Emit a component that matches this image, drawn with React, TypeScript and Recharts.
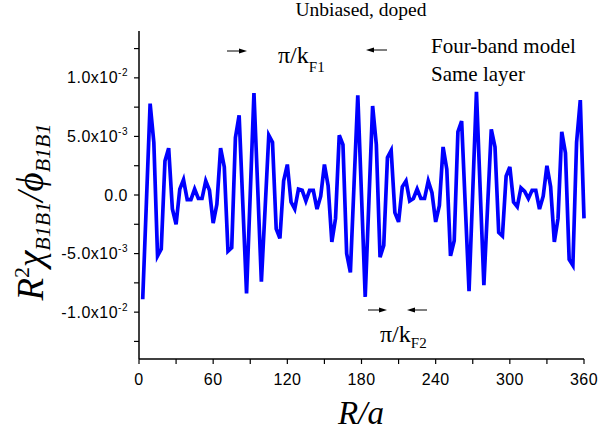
import { LineChart, Line, XAxis, YAxis } from "recharts";

// R/a sample positions
const rSites = [
  3, 6, 9, 12, 15, 18, 21, 24, 27, 30, 33, 36, 39, 42, 45, 48, 51, 54, 57, 60,
  63, 66, 69, 72, 75, 78, 81, 84, 87, 90, 93, 96, 99, 102, 105, 108, 111, 114, 117, 120,
  123, 126, 129, 132, 135, 138, 141, 144, 147, 150, 153, 156, 159, 162, 165, 168, 171, 174, 177, 180,
  183, 186, 189, 192, 195, 198, 201, 204, 207, 210, 213, 216, 219, 222, 225, 228, 231, 234, 237, 240,
  243, 246, 249, 252, 255, 258, 261, 264, 267, 270, 273, 276, 279, 282, 285, 288, 291, 294, 297, 300,
  303, 306, 309, 312, 315, 318, 321, 324, 327, 330, 333, 336, 339, 342, 345, 348, 351, 354, 357, 360,
];

// R^2 chi / phi
const chiValues = [
  -0.0089, -0.0006, 0.0078, 0.0045, -0.0052, -0.0046, 0.0029, 0.004, -0.0012, -0.0025,
  0.0005, 0.0013, -0.0004, -0.0004, 0.0005, -0.0003, -0.0003, 0.0012, 0.0004, -0.0024,
  -0.0008, 0.004, 0.0024, -0.0048, -0.0045, 0.0049, 0.0068, -0.0008, -0.0084, 0.0001,
  0.0087, 0.0007, -0.0074, -0.0012, 0.0051, 0.0045, -0.0029, -0.0037, 0.0012, 0.0026,
  -0.0006, -0.0012, 0.0005, 0.0004, -0.0005, 0.0004, 0.0004, -0.0012, -0.0001, 0.0026,
  0.0008, -0.004, -0.002, 0.0051, 0.0043, -0.005, -0.0066, 0.001, 0.0085, 0.0,
  -0.0087, -0.0005, 0.0076, 0.0043, -0.0053, -0.0043, 0.0032, 0.0038, -0.0015, -0.0023,
  0.0007, 0.0012, -0.0005, -0.0003, 0.0005, -0.0003, -0.0003, 0.0012, 0.0002, -0.0023,
  -0.0009, 0.0041, 0.0022, -0.0052, -0.0039, 0.0054, 0.0063, -0.001, -0.0082, 0.0003,
  0.0088, 0.0005, -0.0077, -0.001, 0.0056, 0.0041, -0.0032, -0.0035, 0.0016, 0.0024,
  -0.0006, -0.001, 0.0006, 0.0003, -0.0003, 0.0004, 0.0004, -0.0012, -0.0001, 0.0025,
  0.0007, -0.004, -0.002, 0.0054, 0.0036, -0.0055, -0.006, 0.0045, 0.0081, -0.002,
];

const xTicks = [0, 30, 60, 90, 120, 150, 180, 210, 240, 270, 300, 330, 360];
const yTicks = [-0.0125, -0.01, -0.0075, -0.005, -0.0025, 0, 0.0025, 0.005, 0.0075, 0.01, 0.0125];
// labelled y ticks: value -> [mantissa, exponent]
const yLabels: Record<string, [string, string]> = {
  "-0.01": ["-1.0x10", "-2"],
  "-0.005": ["-5.0x10", "-3"],
  "0": ["0.0", ""],
  "0.005": ["5.0x10", "-3"],
  "0.01": ["1.0x10", "-2"],
};

const data = rSites.map((r, i) => ({ r, v: chiValues[i] }));

const sans = "'Liberation Sans', Arial, sans-serif";
const serif = "'Liberation Serif', 'Times New Roman', serif";

const YTick = ({ x, y, payload }: any) => {
  const lab = yLabels[String(payload.value)];
  if (!lab) return <g />;
  return (
    <text x={x - 4} y={y + 5.5} textAnchor="end" fontFamily={sans} fontSize={16} letterSpacing={0.5} fill="#000">
      {lab[0]}
      {lab[1] && (
        <tspan fontSize={10} dy={-7}>
          {lab[1]}
        </tspan>
      )}
    </text>
  );
};

const XTick = ({ x, y, payload }: any) => {
  if (payload.value % 60 !== 0) return <g />;
  return (
    <text x={x} y={y + 19} textAnchor="middle" fontFamily={sans} fontSize={16} letterSpacing={0.4} fill="#000">
      {payload.value}
    </text>
  );
};

const Arrow = ({ x1, x2, y }: { x1: number; x2: number; y: number }) => {
  const dir = x2 > x1 ? 1 : -1;
  return (
    <g>
      <line x1={x1} y1={y} x2={x2 - dir * 6} y2={y} stroke="#000" strokeWidth={1} />
      <polygon points={`${x2},${y} ${x2 - dir * 8},${y - 2.5} ${x2 - dir * 8},${y + 2.5}`} fill="#000" />
    </g>
  );
};

export default function App() {
  const axisStroke = { stroke: "#000", strokeWidth: 1.5 };
  return (
    <div style={{ position: "absolute", left: 0, top: 0, width: 598, height: 437, background: "#fff" }}>
      <LineChart width={598} height={437} data={data} margin={{ top: 31, right: 14, bottom: 0, left: 59 }}>
        <XAxis
          xAxisId="bottom"
          type="number"
          dataKey="r"
          domain={[0, 360]}
          ticks={xTicks}
          height={78}
          tickSize={5}
          axisLine={axisStroke}
          tickLine={{ stroke: "#000", strokeWidth: 1.2 }}
          tick={<XTick />}
        />
        <XAxis
          xAxisId="top"
          orientation="top"
          type="number"
          dataKey="r"
          domain={[0, 360]}
          height={0}
          tick={false}
          tickLine={false}
          axisLine={axisStroke}
        />
        <YAxis
          yAxisId="left"
          type="number"
          domain={[-0.014, 0.014]}
          ticks={yTicks}
          width={80}
          tickSize={5}
          axisLine={axisStroke}
          tickLine={{ stroke: "#000", strokeWidth: 1.2 }}
          tick={<YTick />}
        />
        <YAxis
          yAxisId="right"
          orientation="right"
          type="number"
          domain={[-0.014, 0.014]}
          ticks={yTicks}
          width={0}
          mirror
          tickSize={5}
          axisLine={axisStroke}
          tickLine={{ stroke: "#000", strokeWidth: 1.2 }}
          tick={<g />}
        />
        <Line
          xAxisId="bottom"
          yAxisId="left"
          type="linear"
          dataKey="v"
          stroke="#0000ff"
          strokeWidth={3.7}
          strokeLinejoin="miter"
          dot={false}
          isAnimationActive={false}
        />
      </LineChart>
      <svg width={598} height={437} style={{ position: "absolute", left: 0, top: 0, pointerEvents: "none" }}>
        <text x={361} y={16} textAnchor="middle" fontFamily={serif} fontSize={19.5} fill="#000">
          Unbiased, doped
        </text>
        <text x={431} y={53} fontFamily={serif} fontSize={21} fill="#000">
          Four-band model
        </text>
        <text x={431} y={81} fontFamily={serif} fontSize={21} fill="#000">
          Same layer
        </text>
        <text x={278} y={63} fontFamily={serif} fontSize={24} fill="#000">
          π/k
          <tspan fontSize={15} dy={9}>
            F1
          </tspan>
        </text>
        <text x={380} y={342} fontFamily={serif} fontSize={24} fill="#000">
          π/k
          <tspan fontSize={15} dy={6}>
            F2
          </tspan>
        </text>
        <Arrow x1={227} x2={247} y={51} />
        <Arrow x1={387} x2={366} y={50} />
        <Arrow x1={368} x2={387} y={310} />
        <Arrow x1={427} x2={407} y={310} />
        <text x={361} y={424} textAnchor="middle" fontFamily={serif} fontStyle="italic" fontSize={33} fill="#000">
          R/a
        </text>
        <text
          transform="translate(43,212) rotate(-90)"
          textAnchor="middle"
          fontFamily={serif}
          fontStyle="italic"
          fontSize={37}
          fill="#000"
        >
          R
          <tspan fontStyle="normal" fontSize={22} dy={-14}>
            2
          </tspan>
          <tspan dy={14}>χ</tspan>
          <tspan fontSize={22} dy={7}>
            B1B1
          </tspan>
          <tspan dy={-7}>/ϕ</tspan>
          <tspan fontSize={22} dy={7}>
            B1B1
          </tspan>
        </text>
      </svg>
    </div>
  );
}
